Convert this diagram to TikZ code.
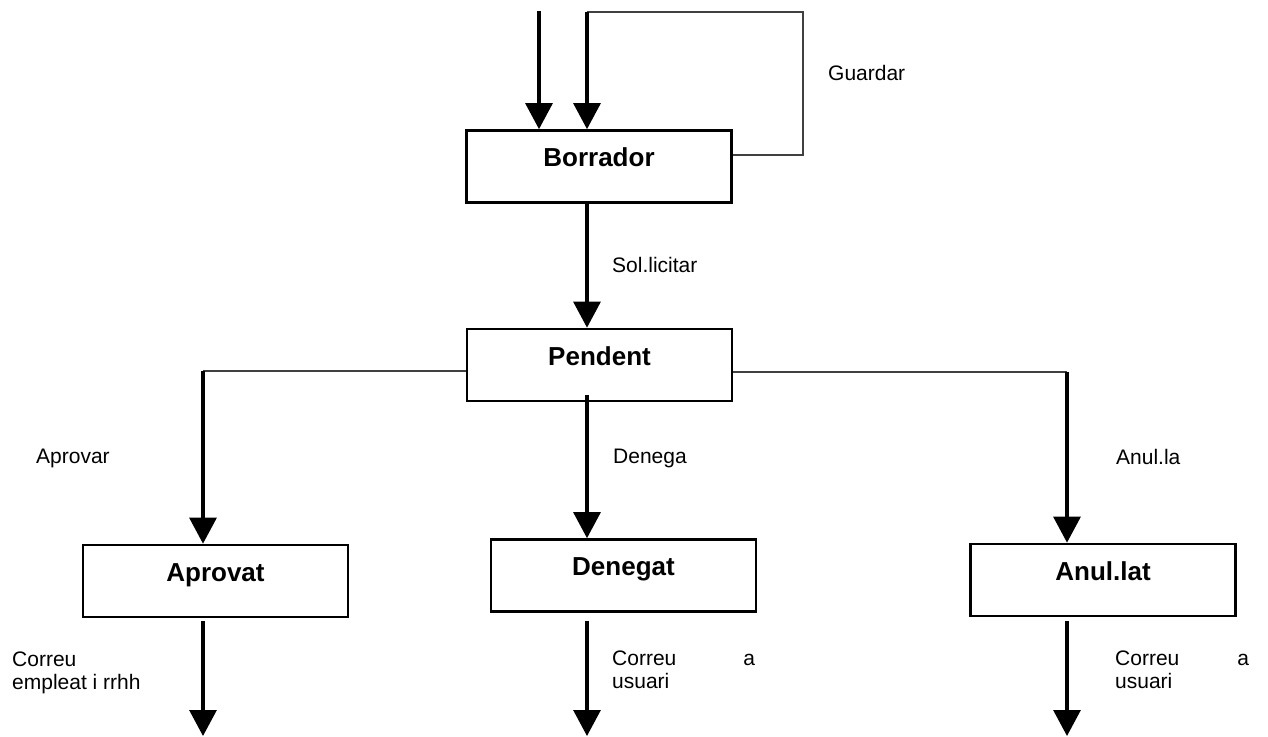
\documentclass[tikz,border=0pt]{standalone}
\usepackage{fontspec}
\setmainfont{Liberation Sans}
\usetikzlibrary{arrows.meta}
\begin{document}
\begin{tikzpicture}[x=1pt,y=-1pt,
  state/.style={draw=black, line width=2.7pt, minimum width=265pt, minimum height=72pt,
    inner sep=0pt, text height=10pt, text depth=10pt, font=\fontsize{26}{30}\selectfont\bfseries},
  lbl/.style={inner sep=0pt, anchor=base west, font=\fontsize{21}{23}\selectfont},
  arr/.style={line width=3.1pt, -{Triangle[length=26pt,width=27pt]}},
  wire/.style={line width=1.5pt, draw=black!75}]
\useasboundingbox (0,0) rectangle (1268,736);

% states
\node[state] (B)  at (599,166.5)  {Borrador};
\node[state] (P)  at (599.5,365)  {Pendent};
\node[state] (AP) at (215.5,581)  {Aprovat};
\node[state] (DE) at (623.5,575.5) {Denegat};
\node[state] (AN) at (1103,580)   {Anul.lat};

% helper coordinates
\coordinate (in1) at (539,11);
\coordinate (lp)  at (587,12);
\coordinate (lr)  at (803,12);
\coordinate (ap)  at (203,371);
\coordinate (an)  at (1067,372);

% entry and loop
\draw[arr] (in1) -- (in1 |- B.north);
\draw[wire] (B.east |- 0,155) -- (lr |- 0,155) -- (lr) -- (lp);
\draw[arr] (lp) -- (lp |- B.north);

% Borrador -> Pendent
\draw[arr] (B.south -| lp) -- (P.north -| lp);

% Pendent -> outcomes
\draw[wire] (P.west |- ap) -- (ap);
\draw[arr] (ap) -- (ap |- AP.north);
\draw[wire] (P.east |- an) -- (an);
\draw[arr] (an) -- (an |- AN.north);
\draw[arr] (lp |- 0,395) -- (lp |- DE.north);

% final arrows
\draw[arr] ([yshift=-3pt]AP.south -| ap) -- (ap |- 0,736);
\draw[arr] ([yshift=-8pt]DE.south -| lp) -- (lp |- 0,736);
\draw[arr] ([yshift=-4pt]AN.south -| an) -- (an |- 0,736);

% labels
\node[lbl] (lg)  at (828,80)  {Guardar};
\node[lbl] (ls)  at (612,272) {Sol.licitar};
\node[lbl] (la)  at (36,463)  {Aprovar};
\node[lbl] (ld)  at (613,463) {Denega};
\node[lbl] (ln)  at (1116,464) {Anul.la};
\node[lbl] (c1)  at (12,666)  {\begin{tabular}[t]{@{}l@{}}Correu\\empleat i rrhh\end{tabular}};
\node[lbl] (c2)  at (612,665) {\begin{tabular}[t]{@{}l@{}}Correu\hspace{67pt}a\\usuari\end{tabular}};
\node[lbl] (c3)  at (1115,665) {\begin{tabular}[t]{@{}l@{}}Correu\hspace{58pt}a\\usuari\end{tabular}};
\end{tikzpicture}
\end{document}
